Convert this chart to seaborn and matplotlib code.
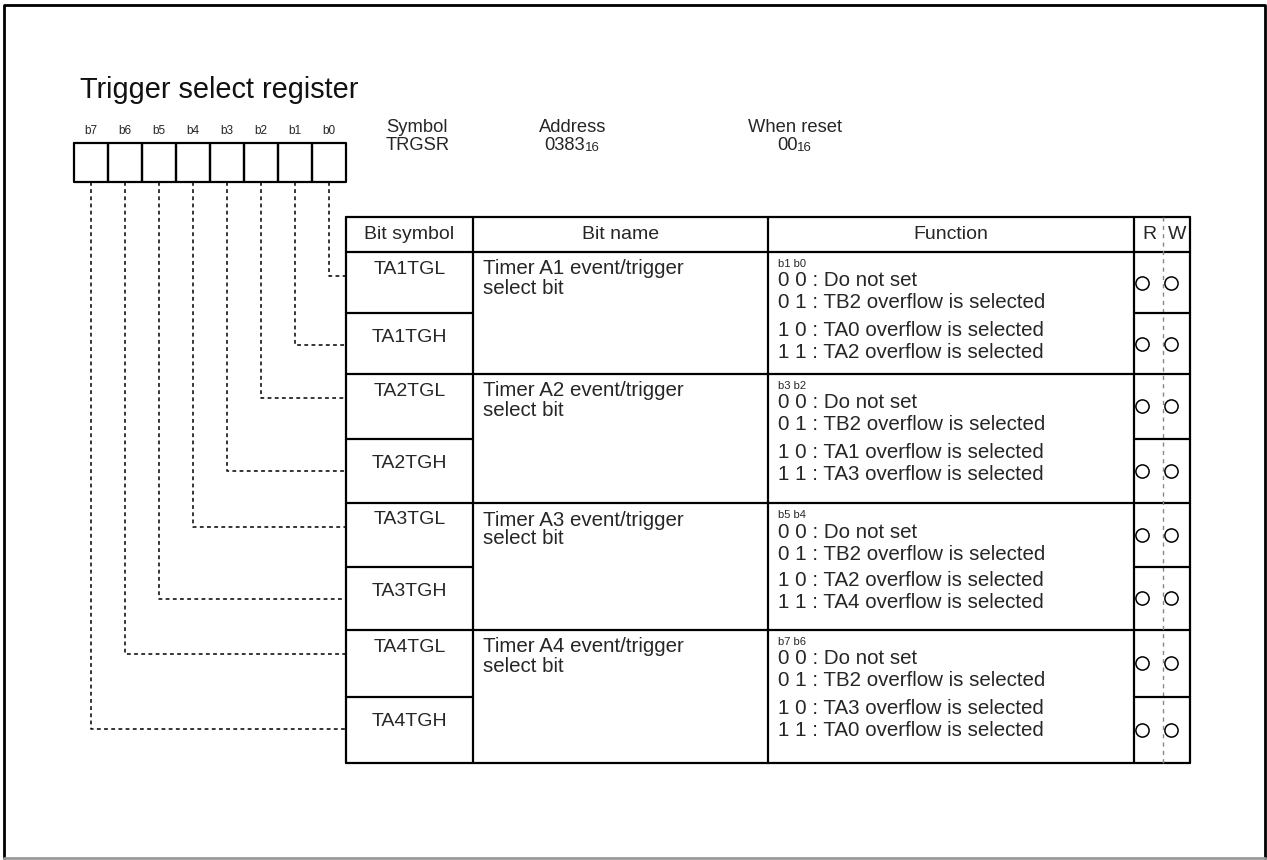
"""
Trigger select register (TRGSR) bit layout diagram.
"""

import matplotlib
matplotlib.use('Agg')
import matplotlib.pyplot as plt
import seaborn as sns

sns.set_theme(style='white')
plt.rcParams['font.family'] = ['Liberation Sans', 'DejaVu Sans']

# 1. CONTENT
title = 'Trigger select register'
bit_labels = ['b7', 'b6', 'b5', 'b4', 'b3', 'b2', 'b1', 'b0']
info_heads = ['Symbol', 'Address', 'When reset']
info_values = ['TRGSR', '0383', '00']
info_subs = ['', '16', '16']
headers = ['Bit symbol', 'Bit name', 'Function']
bit_symbols = ['TA1TGL', 'TA1TGH', 'TA2TGL', 'TA2TGH',
               'TA3TGL', 'TA3TGH', 'TA4TGL', 'TA4TGH']
bit_names = ['Timer A1 event/trigger', 'Timer A2 event/trigger',
             'Timer A3 event/trigger', 'Timer A4 event/trigger']
bit_name_2nd = 'select bit'
field_bits = ['b1 b0', 'b3 b2', 'b5 b4', 'b7 b6']
codes = ['0 0', '0 1', '1 0', '1 1']
sources = [['TB2', 'TA0', 'TA2'],
           ['TB2', 'TA1', 'TA3'],
           ['TB2', 'TA2', 'TA4'],
           ['TB2', 'TA3', 'TA0']]
rw_marks = ['R', 'W']

# 2. LAYOUT (pixel space)
W, H = 1267, 860
BOX_X0, BOX_W, BOX_TOP, BOX_BOT = 74, 34, 143, 182
COLS = [346, 473, 768, 1134, 1190]
RW_MID = 1163
HEAD_TOP, HEAD_BOT = 217, 252
GROUPS = [252, 374, 503, 630, 763]
FS = 14
FS_BODY = 14.8

fig = plt.figure(figsize=(W / 100, H / 100), dpi=100)
ax = fig.add_axes([0, 0, 1, 1])
ax.set_xlim(0, W)
ax.set_ylim(H, 0)
ax.axis('off')

# outer frame
ax.plot([4, 4, 1265, 1265], [858, 5, 5, 858], color='black', lw=2)
ax.plot([4, 1265], [858, 858], color='#999999', lw=2)

# title and register info
ax.text(80, 98, title, fontsize=20.8, va='baseline', ha='left', color='#111111')
info_x = [386, 573, 795]
info_ha = ['left', 'center', 'center']
for x, ha, head, val, sub in zip(info_x, info_ha, info_heads, info_values, info_subs):
    ax.text(x, 132, head, fontsize=13.2, ha=ha, va='baseline')
    t = ax.text(x - (8 if sub else 0), 150, val, fontsize=13.2, ha=ha, va='baseline')
    if sub:
        ax.annotate(sub, xy=(1, 0), xycoords=t, fontsize=9.5, ha='left', va='bottom')

# bit boxes
for i, lab in enumerate(bit_labels):
    x = BOX_X0 + i * BOX_W
    ax.plot([x, x + BOX_W, x + BOX_W, x, x], [BOX_TOP, BOX_TOP, BOX_BOT, BOX_BOT, BOX_TOP],
            color='black', lw=1.6)
    ax.text(x + BOX_W / 2, 131, lab, fontsize=8.5, ha='center', va='center')

# table grid
lw = 1.6
ax.plot([COLS[0], COLS[-1]], [HEAD_TOP, HEAD_TOP], color='black', lw=lw)
for y in GROUPS:
    ax.plot([COLS[0], COLS[-1]], [y, y], color='black', lw=lw)
for x in COLS:
    ax.plot([x, x], [HEAD_TOP, GROUPS[-1]], color='black', lw=lw)
ax.plot([RW_MID, RW_MID], [HEAD_TOP, GROUPS[-1]], color='#888888', lw=1,
        linestyle=(0, (3, 3)))

# header
for j, h in enumerate(headers):
    ax.text((COLS[j] + COLS[j + 1]) / 2, (HEAD_TOP + HEAD_BOT) / 2, h,
            fontsize=FS, ha='center', va='center')
ax.text(1149, (HEAD_TOP + HEAD_BOT) / 2, rw_marks[0], fontsize=FS, ha='center', va='center')
ax.text(1177, (HEAD_TOP + HEAD_BOT) / 2, rw_marks[1], fontsize=FS, ha='center', va='center')

# rows
for g in range(4):
    top, bot = GROUPS[g], GROUPS[g + 1]
    mid = (top + bot) / 2
    # sub-row split in bit symbol and R/W columns
    ax.plot([COLS[0], COLS[1]], [mid, mid], color='black', lw=lw)
    ax.plot([COLS[3], COLS[4]], [mid, mid], color='black', lw=lw)

    sym_y = [top + 17, mid + 25]
    for k in range(2):
        idx = 2 * g + k
        ax.text((COLS[0] + COLS[1]) / 2, sym_y[k], bit_symbols[idx],
                fontsize=FS, ha='center', va='center')
        # dashed connector from the bit box
        bit_pos = 7 - idx
        bx = BOX_X0 + bit_pos * BOX_W + BOX_W / 2
        cy = sym_y[k] + 7
        ax.plot([bx, bx, COLS[0]], [BOX_BOT, cy, cy], color='black', lw=1.1,
                linestyle=(0, (2.5, 2.2)))
        # R/W circles
        ry = (top + mid) / 2 if k == 0 else (mid + bot) / 2
        ax.plot([1142, 1171], [ry, ry], linestyle='none', marker='o', ms=9.5,
                mfc='white', mec='black', mew=1.1)

    ax.text(483, top + 17, bit_names[g], fontsize=FS_BODY, ha='left', va='center')
    ax.text(483, top + 36, bit_name_2nd, fontsize=FS_BODY, ha='left', va='center')

    fx = 778
    ax.text(fx, top + 12, field_bits[g], fontsize=8, ha='left', va='center')
    lines = [f'{codes[0]} : Do not set'] + \
            [f'{c} : {s} overflow is selected' for c, s in zip(codes[1:], sources[g])]
    for ln, dy in zip(lines, [29, 51, 78, 100]):
        ax.text(fx, top + dy, ln, fontsize=FS_BODY, ha='left', va='center')

plt.savefig('out.png', dpi=100)
